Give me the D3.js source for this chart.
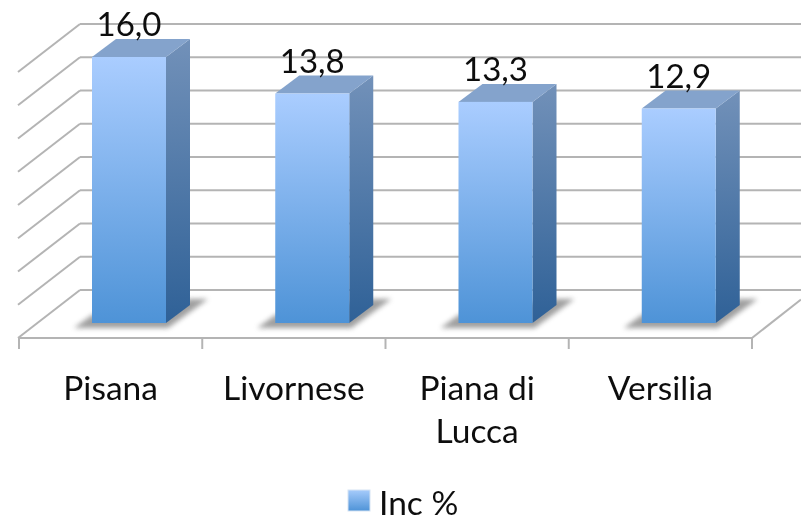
<!DOCTYPE html>
<html>
<head>
<meta charset="utf-8">
<script src="https://cdn.jsdelivr.net/npm/d3@7"></script>
<style>
html, body { margin:0; padding:0; background:#fff; }
svg { display:block; }
text { font-family:Lato, "Open Sans", sans-serif; fill:#111; }
</style>
</head>
<body>
<script>
// Chart data
const categories = ["Pisana", "Livornese", "Piana di Lucca", "Versilia"];
const labelLines = [["Pisana"], ["Livornese"], ["Piana di", "Lucca"], ["Versilia"]];
const values = [16.0, 13.8, 13.3, 12.9];
const valueLabels = ["16,0", "13,8", "13,3", "12,9"];
const gridTicks = [0, 2, 4, 6, 8, 10, 12, 14, 16];
const seriesName = "Inc %";

const width = 801;
const height = 517;

// floor box: front edge and how far the back wall sits from it
const floorLeft = 19, floorRight = 752, floorY = 338;
const wallDx = 61, wallDy = 48;
// bar depth
const barDx = 24, barDy = 18;

const svg = d3.select("body")
.append("svg")
.attr("width", width)
.attr("height", height);

const defs = svg.append("defs");

function vGrad(id, top, bottom) {
const g = defs.append("linearGradient")
.attr("id", id)
.attr("x1", 0).attr("y1", 0)
.attr("x2", 0).attr("y2", 1);
g.append("stop").attr("offset", "0%").attr("stop-color", top);
g.append("stop").attr("offset", "100%").attr("stop-color", bottom);
}
vGrad("front", "#aacdff", "#4e93d7");
vGrad("side", "#7291b9", "#2f6197");
vGrad("swatch", "#a6cbfb", "#4e93d7");

defs.append("filter").attr("id", "shadow")
.attr("x", "-20%").attr("y", "-30%").attr("width", "140%").attr("height", "160%")
.append("feGaussianBlur").attr("stdDeviation", 2.4);

defs.append("filter").attr("id", "soft")
.append("feGaussianBlur").attr("stdDeviation", 0.45);

// Scales
const x = d3.scaleBand()
.domain(categories)
.range([floorLeft, floorRight]);

// y on the back wall
const yWall = d3.scaleLinear()
.domain([0, 16])
.range([floorY - wallDy, 24]);

// y on the front face of the bars
const yBar = d3.scaleLinear()
.domain([0, 16])
.range([323, 57]);

const barWidth = 74;
const barShift = 73; // bar left edge inside its band, pushed back by the 3D view

const wall = svg.append("g")
.attr("fill", "none")
.attr("stroke", "#b4b4b4")
.attr("stroke-width", 2);

// back wall gridlines
wall.selectAll("line.grid")
.data(gridTicks)
.enter()
.append("line")
.attr("class", "grid")
.attr("x1", floorLeft + wallDx)
.attr("x2", width)
.attr("y1", function(d){ return yWall(d); })
.attr("y2", function(d){ return yWall(d); });

// left wall gridlines
wall.selectAll("line.side")
.data(gridTicks)
.enter()
.append("line")
.attr("class", "side")
.attr("x1", floorLeft - 1)
.attr("x2", floorLeft + wallDx)
.attr("y1", function(d){ return yWall(d) + wallDy; })
.attr("y2", function(d){ return yWall(d); });

// floor front edge and right side
wall.append("line")
.attr("x1", floorLeft).attr("x2", floorRight)
.attr("y1", floorY).attr("y2", floorY);

wall.append("line")
.attr("x1", floorRight).attr("y1", floorY)
.attr("x2", width).attr("y2", floorY - (width - floorRight) * wallDy / wallDx);

// category ticks
wall.selectAll("line.tick")
.data(categories.concat(["end"]))
.enter()
.append("line")
.attr("class", "tick")
.attr("x1", function(d){ return d === "end" ? floorRight : x(d); })
.attr("x2", function(d){ return d === "end" ? floorRight : x(d); })
.attr("y1", floorY)
.attr("y2", floorY + 11);

// one group per bar
const bars = svg.selectAll("g.bar")
.data(values)
.enter()
.append("g")
.attr("class", "bar")
.attr("transform", function(d, i){ return "translate(" + (x(categories[i]) + barShift) + ",0)"; });

// floor shadow
bars.append("path")
.attr("fill", "#777")
.attr("opacity", 0.7)
.attr("filter", "url(#shadow)")
.attr("d", function(){
const b = yBar(0);
return "M-18," + (b + 5) + "L" + (barWidth + 2) + "," + (b + 5) +
"L" + (barWidth + 42) + "," + (b - 24) +
"L" + (barWidth + barDx) + "," + (b - 24) +
"L0," + (b - 8) + "Z";
});

// right side
bars.append("path")
.attr("fill", "url(#side)")
.attr("d", function(d){
const t = yBar(d), b = yBar(0);
return "M" + barWidth + "," + t +
"L" + (barWidth + barDx) + "," + (t - barDy) +
"L" + (barWidth + barDx) + "," + (b - barDy) +
"L" + barWidth + "," + b + "Z";
});

// top
bars.append("path")
.attr("fill", "#84a3cc")
.attr("d", function(d){
const t = yBar(d);
return "M0," + t +
"L" + barDx + "," + (t - barDy) +
"L" + (barWidth + barDx) + "," + (t - barDy) +
"L" + barWidth + "," + t + "Z";
});

// front
bars.append("rect")
.attr("width", barWidth)
.attr("y", function(d){ return yBar(d); })
.attr("height", function(d){ return yBar(0) - yBar(d); })
.attr("fill", "url(#front)");

// value labels
bars.append("text")
.attr("x", 37)
.attr("y", function(d){ return yBar(d) - 21; })
.attr("text-anchor", "middle")
.attr("font-size", 33)
.attr("filter", "url(#soft)")
.text(function(d, i){ return valueLabels[i]; });

// category labels
const catLabels = svg.selectAll("text.cat")
.data(labelLines)
.enter()
.append("text")
.attr("class", "cat")
.attr("text-anchor", "middle")
.attr("font-size", 33.5)
.attr("filter", "url(#soft)")
.attr("transform", function(d, i){ return "translate(" + (x(categories[i]) + x.bandwidth() / 2) + ",400)"; });

catLabels.selectAll("tspan")
.data(function(d){ return d; })
.enter()
.append("tspan")
.attr("x", 0)
.attr("y", function(d, i){ return i * 43; })
.text(function(d){ return d; });

// legend
svg.append("rect")
.attr("x", 348).attr("y", 490)
.attr("width", 22).attr("height", 21)
.attr("fill", "url(#swatch)")
.attr("stroke", "#d5e3f3");

svg.append("text")
.attr("x", 379).attr("y", 515)
.attr("font-size", 33.5)
.attr("filter", "url(#soft)")
.text(seriesName);
</script>
</body>
</html>
